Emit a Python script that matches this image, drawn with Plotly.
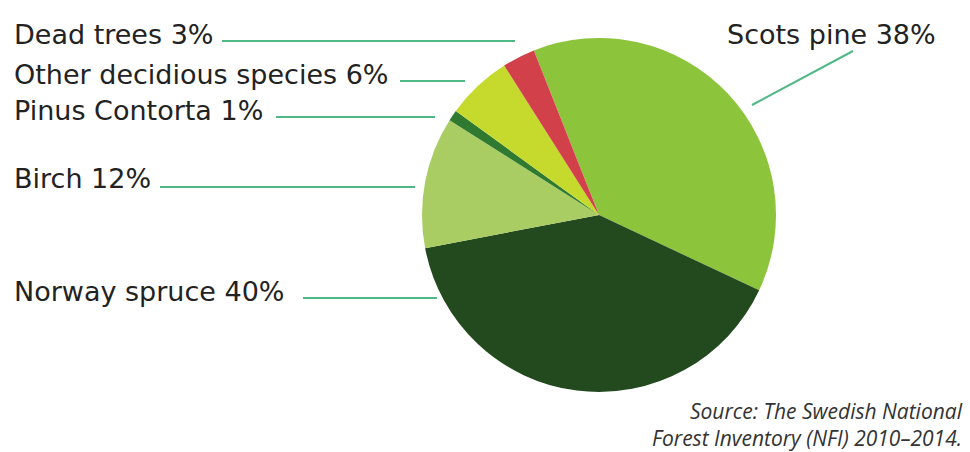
import plotly.graph_objects as go

W, H = 970, 452

species = ["Scots pine", "Norway spruce", "Birch", "Pinus Contorta",
           "Other decidious species", "Dead trees"]
shares = [38, 40, 12, 1, 6, 3]
colors = ["#8cc43c", "#234a1f", "#a9cd62", "#2f7a30", "#c6da2e", "#d2404a"]

# label layout (pixels): text anchor x, text centre y, leader line (x0, y0, x1, y1)
label_pos = {
    "Dead trees": (12, 'left', 34, (222, 41, 515, 41)),
    "Other decidious species": (12, 'left', 74, (400, 81, 465, 81)),
    "Pinus Contorta": (12, 'left', 110, (276, 117, 435, 117)),
    "Birch": (12, 'left', 178, (160, 187, 415, 187)),
    "Norway spruce": (12, 'left', 291, (303, 298, 437, 298)),
    "Scots pine": (725, 'left', 34, (853, 51, 752, 105)),
}

source_lines = ["Source: The Swedish National", "Forest Inventory (NFI) 2010\u20132014."]

def px(x):
    return x / W

def py(y):
    return 1 - y / H

fig = go.Figure(go.Pie(
    labels=species, values=shares, sort=False, direction="clockwise",
    rotation=-21.6, marker=dict(colors=colors, line=dict(width=0)),
    textinfo="none", hoverinfo="label+percent", showlegend=False,
    domain=dict(x=[px(599 - 177), px(599 + 177)], y=[py(215 + 177), py(215 - 177)]),
))

annotations = []
shapes = []
for name, val in zip(species, shares):
    x, anchor, yc, (x0, y0, x1, y1) = label_pos[name]
    annotations.append(dict(
        x=px(x), y=py(yc), xref="paper", yref="paper", xanchor=anchor, yanchor="middle",
        text=f"{name} {val}%", showarrow=False,
        font=dict(family="DejaVu Sans", size=27, color="#222222"),
    ))
    shapes.append(dict(type="line", xref="paper", yref="paper",
                       x0=px(x0), y0=py(y0), x1=px(x1), y1=py(y1),
                       line=dict(color="#4fb886", width=2)))

annotations.append(dict(
    x=px(965), y=py(424), xref="paper", yref="paper",
    xanchor="right", yanchor="middle", align="right",
    text="<br>".join(f"<i>{t}</i>" for t in source_lines), showarrow=False,
    font=dict(family="Open Sans", size=21, color="#333333"),
))

fig.update_layout(
    width=W, height=H, margin=dict(l=0, r=0, t=0, b=0),
    paper_bgcolor="white", plot_bgcolor="white",
    annotations=annotations, shapes=shapes,
)

fig.write_html("out.html")
